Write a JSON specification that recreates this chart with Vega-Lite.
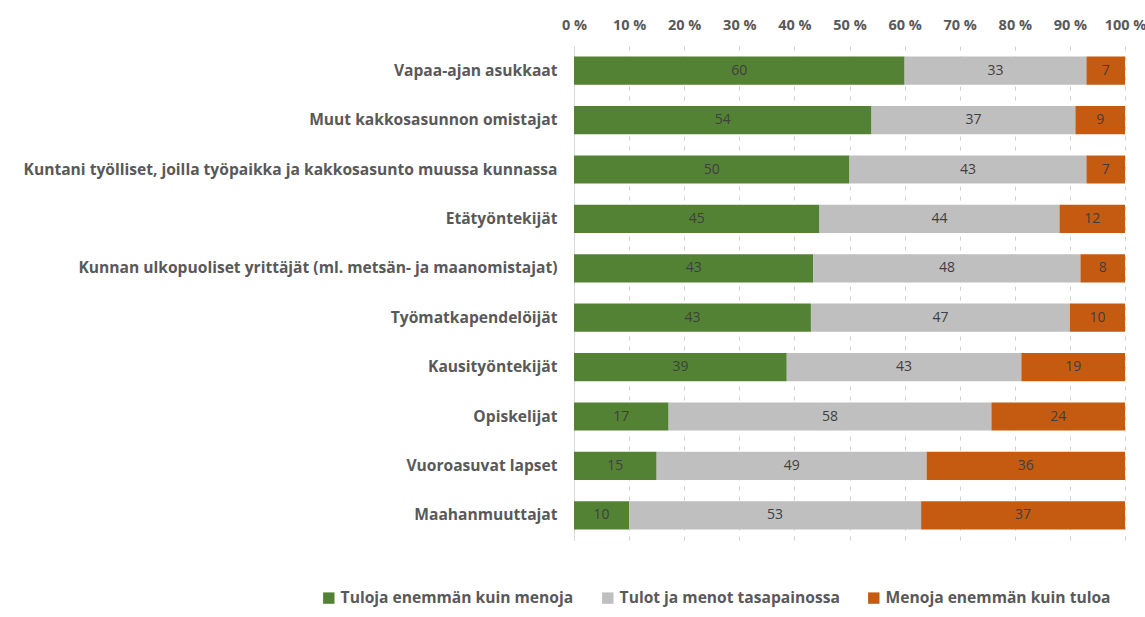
{
  "$schema": "https://vega.github.io/schema/vega-lite/v6.json",
  "width": 551,
  "height": 494,
  "autosize": "none",
  "padding": {"left": 574, "top": 46, "right": 20, "bottom": 77},
  "background": "white",
  "config": {"view": {"stroke": null}, "font": "Open Sans"},
  "data": {
    "values": [
      {"group": "Vapaa-ajan asukkaat", "series": "Tuloja enemmän kuin menoja", "value": 60},
      {"group": "Vapaa-ajan asukkaat", "series": "Tulot ja menot tasapainossa", "value": 33},
      {"group": "Vapaa-ajan asukkaat", "series": "Menoja enemmän kuin tuloa", "value": 7},
      {"group": "Muut kakkosasunnon omistajat", "series": "Tuloja enemmän kuin menoja", "value": 54},
      {"group": "Muut kakkosasunnon omistajat", "series": "Tulot ja menot tasapainossa", "value": 37},
      {"group": "Muut kakkosasunnon omistajat", "series": "Menoja enemmän kuin tuloa", "value": 9},
      {"group": "Kuntani työlliset, joilla työpaikka ja kakkosasunto muussa kunnassa", "series": "Tuloja enemmän kuin menoja", "value": 50},
      {"group": "Kuntani työlliset, joilla työpaikka ja kakkosasunto muussa kunnassa", "series": "Tulot ja menot tasapainossa", "value": 43},
      {"group": "Kuntani työlliset, joilla työpaikka ja kakkosasunto muussa kunnassa", "series": "Menoja enemmän kuin tuloa", "value": 7},
      {"group": "Etätyöntekijät", "series": "Tuloja enemmän kuin menoja", "value": 45},
      {"group": "Etätyöntekijät", "series": "Tulot ja menot tasapainossa", "value": 44},
      {"group": "Etätyöntekijät", "series": "Menoja enemmän kuin tuloa", "value": 12},
      {"group": "Kunnan ulkopuoliset yrittäjät (ml. metsän- ja maanomistajat)", "series": "Tuloja enemmän kuin menoja", "value": 43},
      {"group": "Kunnan ulkopuoliset yrittäjät (ml. metsän- ja maanomistajat)", "series": "Tulot ja menot tasapainossa", "value": 48},
      {"group": "Kunnan ulkopuoliset yrittäjät (ml. metsän- ja maanomistajat)", "series": "Menoja enemmän kuin tuloa", "value": 8},
      {"group": "Työmatkapendelöijät", "series": "Tuloja enemmän kuin menoja", "value": 43},
      {"group": "Työmatkapendelöijät", "series": "Tulot ja menot tasapainossa", "value": 47},
      {"group": "Työmatkapendelöijät", "series": "Menoja enemmän kuin tuloa", "value": 10},
      {"group": "Kausityöntekijät", "series": "Tuloja enemmän kuin menoja", "value": 39},
      {"group": "Kausityöntekijät", "series": "Tulot ja menot tasapainossa", "value": 43},
      {"group": "Kausityöntekijät", "series": "Menoja enemmän kuin tuloa", "value": 19},
      {"group": "Opiskelijat", "series": "Tuloja enemmän kuin menoja", "value": 17},
      {"group": "Opiskelijat", "series": "Tulot ja menot tasapainossa", "value": 58},
      {"group": "Opiskelijat", "series": "Menoja enemmän kuin tuloa", "value": 24},
      {"group": "Vuoroasuvat lapset", "series": "Tuloja enemmän kuin menoja", "value": 15},
      {"group": "Vuoroasuvat lapset", "series": "Tulot ja menot tasapainossa", "value": 49},
      {"group": "Vuoroasuvat lapset", "series": "Menoja enemmän kuin tuloa", "value": 36},
      {"group": "Maahanmuuttajat", "series": "Tuloja enemmän kuin menoja", "value": 10},
      {"group": "Maahanmuuttajat", "series": "Tulot ja menot tasapainossa", "value": 53},
      {"group": "Maahanmuuttajat", "series": "Menoja enemmän kuin tuloa", "value": 37}
    ]
  },
  "transform": [
    {"calculate": "indexof(['Tuloja enemmän kuin menoja','Tulot ja menot tasapainossa','Menoja enemmän kuin tuloa'], datum.series)", "as": "k"},
    {"stack": "value", "groupby": ["group"], "sort": [{"field": "k", "order": "ascending"}], "offset": "normalize", "as": ["v0", "v1"]},
    {"calculate": "(datum.v0 + datum.v1) / 2", "as": "mid"}
  ],
  "encoding": {
    "y": {
      "field": "group",
      "type": "nominal",
      "sort": null,
      "title": null,
      "scale": {"paddingInner": 0.43, "paddingOuter": 0.215},
      "axis": {
        "domain": true,
        "domainColor": "#d9d9d9",
        "ticks": false,
        "labelFont": "Open Sans",
        "labelFontWeight": "bold",
        "labelFontSize": 15.6,
        "labelColor": "#595959",
        "labelPadding": 17,
        "labelLimit": 620
      }
    }
  },
  "layer": [
    {
      "mark": {"type": "bar"},
      "encoding": {
        "x": {
          "field": "v0",
          "type": "quantitative",
          "scale": {"domain": [0, 1], "nice": false},
          "title": null,
          "axis": {
            "orient": "top",
            "values": [0, 0.1, 0.2, 0.3, 0.4, 0.5, 0.6, 0.7, 0.8, 0.9, 1],
            "labelExpr": "format(datum.value * 100, 'd') + ' %'",
            "domain": false,
            "ticks": false,
            "grid": true,
            "gridColor": "#d0d0d0",
            "gridDash": [4, 6],
            "gridWidth": 1,
            "labelFont": "Open Sans",
            "labelFontWeight": "bold",
            "labelFontSize": 14.5,
            "labelColor": "#595959",
            "labelPadding": 14,
            "labelFlush": false
          }
        },
        "x2": {"field": "v1"},
        "color": {
          "field": "series",
          "type": "nominal",
          "sort": ["Tuloja enemmän kuin menoja", "Tulot ja menot tasapainossa", "Menoja enemmän kuin tuloa"],
          "scale": {
            "domain": ["Tuloja enemmän kuin menoja", "Tulot ja menot tasapainossa", "Menoja enemmän kuin tuloa"],
            "range": ["#548235", "#bfbfbf", "#c55a11"]
          },
          "legend": {
            "orient": "none",
            "legendX": -253,
            "legendY": 544,
            "direction": "horizontal",
            "title": null,
            "symbolType": "square",
            "symbolSize": 130,
            "symbolStrokeWidth": 0,
            "labelFont": "Open Sans",
            "labelFontWeight": "bold",
            "labelFontSize": 15.6,
            "labelColor": "#595959",
            "labelOffset": 4,
            "columnPadding": 26,
            "labelLimit": 400
          }
        }
      }
    },
    {
      "mark": {"type": "text", "fontSize": 14, "color": "#404040", "font": "Open Sans"},
      "encoding": {
        "x": {"field": "mid", "type": "quantitative"},
        "text": {"field": "value", "type": "quantitative"}
      }
    }
  ]
}
